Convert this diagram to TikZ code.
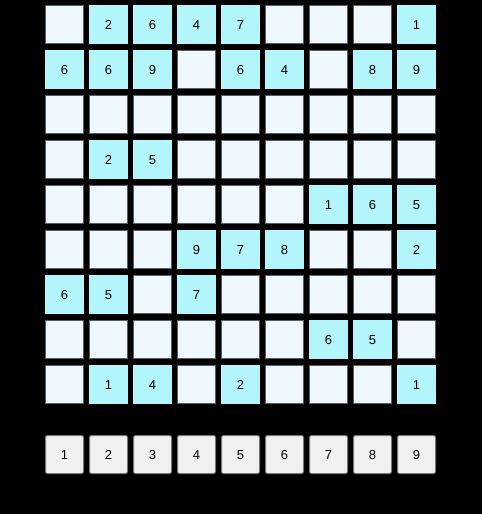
\documentclass[tikz,border=0pt]{standalone}
\usepackage{fontspec}
\setmainfont{Liberation Sans}
\definecolor{cellbg}{HTML}{F0F8FF}
\definecolor{given}{HTML}{B2F5FA}
\definecolor{cellline}{HTML}{5C5C5C}
\definecolor{btnbg}{HTML}{F0F0F0}
\definecolor{btnline}{HTML}{767676}
\begin{document}
\begin{tikzpicture}[x=1pt,y=-1pt,
  base/.style={inner sep=0pt, anchor=north west, text=black,
    text height=9.4pt, text depth=0pt,
    font=\fontsize{13}{15}\selectfont},
  emptycell/.style={base, minimum size=38pt, fill=cellbg, draw=cellline, line width=1pt},
  givencell/.style={base, minimum size=39pt, outer sep=0pt, fill=given},
  btn/.style={base, minimum size=38pt, fill=btnbg, draw=btnline, line width=1pt, rounded corners=2pt}]
\fill[black] (0,0) rectangle (482,514);
\useasboundingbox (0,0) rectangle (482,514);
\foreach \row [count=\j from 0] in {
  {0,2,6,4,7,0,0,0,1},
  {6,6,9,0,6,4,0,8,9},
  {0,0,0,0,0,0,0,0,0},
  {0,2,5,0,0,0,0,0,0},
  {0,0,0,0,0,0,1,6,5},
  {0,0,0,9,7,8,0,0,2},
  {6,5,0,7,0,0,0,0,0},
  {0,0,0,0,0,0,6,5,0},
  {0,1,4,0,2,0,0,0,1}} {
  \foreach \v [count=\i from 0] in \row {
    \ifnum\v=0
      \node[emptycell] (c\j\i) at ({45+44*\i},{5+45*\j}) {};
    \else
      \node[givencell] (c\j\i) at ({45+44*\i},{5+45*\j}) {\v};
    \fi
  }
}
\foreach \n [count=\i from 0] in {1,...,9}
  \node[btn] (b\n) at ({45+44*\i},435) {\n};
\end{tikzpicture}
\end{document}
